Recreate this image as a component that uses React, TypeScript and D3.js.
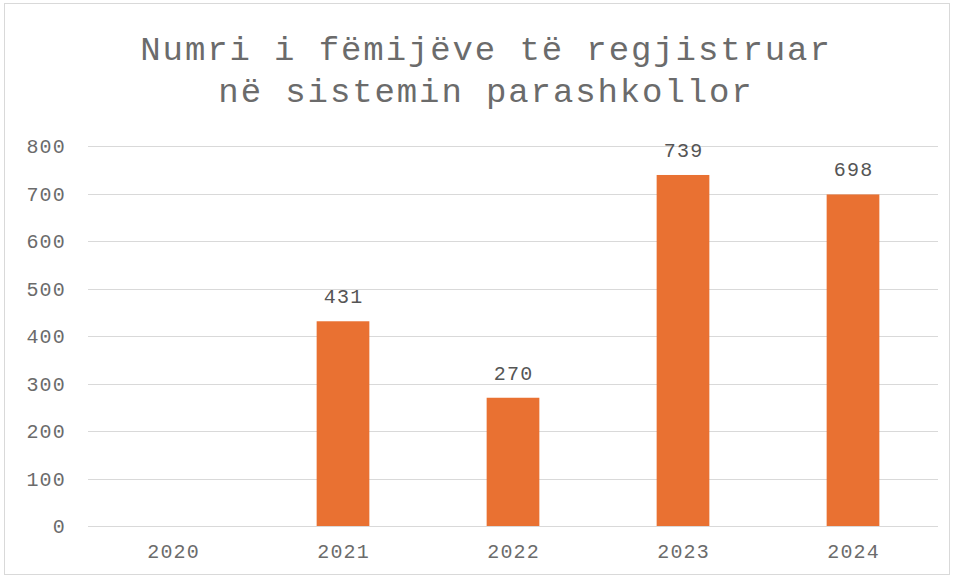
import React, { useEffect, useRef } from 'react';
import * as d3 from 'd3';

const years = ['2020', '2021', '2022', '2023', '2024'];
const children: (number | null)[] = [null, 431, 270, 739, 698];
const yTicks = [0, 100, 200, 300, 400, 500, 600, 700, 800];
const titleLines = ['Numri i fëmijëve të regjistruar', 'në sistemin parashkollor'];

const W = 954;
const H = 577;
const FONT = '"Liberation Mono", "Courier New", monospace';

export default function App() {
  const ref = useRef<SVGSVGElement>(null);

  useEffect(() => {
    document.body.style.margin = '0';
    const svg = d3.select(ref.current);
    svg.selectAll('*').remove();

    const left = 88, right = 938, top = 146, bottom = 526;

    const x = d3.scaleBand().domain(years).range([left, right]).paddingInner(0.69).paddingOuter(0.345);
    const y = d3.scaleLinear().domain([0, 800]).range([bottom, top]);

    svg.append('rect')
      .attr('x', 4.5).attr('y', 3.5)
      .attr('width', W - 9).attr('height', H - 6)
      .attr('fill', '#fff').attr('stroke', '#d9d9d9');

    svg.append('g').selectAll('text')
      .data(titleLines)
      .enter().append('text')
      .attr('x', 486).attr('y', (d, i) => 60 + i * 42)
      .attr('text-anchor', 'middle')
      .attr('font-family', FONT).attr('font-size', 34).attr('letter-spacing', 1.9)
      .attr('fill', '#6b6b6b')
      .text(d => d);

    // gridlines
    svg.append('g').selectAll('line')
      .data(yTicks)
      .enter().append('line')
      .attr('x1', left).attr('x2', right)
      .attr('y1', d => Math.round(y(d)) + 0.5).attr('y2', d => Math.round(y(d)) + 0.5)
      .attr('stroke', '#d9d9d9').attr('stroke-width', 1);

    svg.append('g').selectAll('text')
      .data(yTicks)
      .enter().append('text')
      .attr('x', 66).attr('y', d => y(d) + 7)
      .attr('text-anchor', 'end')
      .attr('font-family', FONT).attr('font-size', 20).attr('letter-spacing', 1.2)
      .attr('fill', '#6b6b6b')
      .text(d => d);

    const data = years.map((yr, i) => ({ yr, v: children[i] }));

    svg.append('g').selectAll('rect')
      .data(data.filter(d => d.v != null))
      .enter().append('rect')
      .attr('x', d => x(d.yr)!)
      .attr('y', d => y(d.v!))
      .attr('width', x.bandwidth())
      .attr('height', d => y(0) - y(d.v!))
      .attr('fill', '#e97132');

    // data labels
    svg.append('g').selectAll('text')
      .data(data.filter(d => d.v != null))
      .enter().append('text')
      .attr('x', d => x(d.yr)! + x.bandwidth() / 2 + 0.6)
      .attr('y', d => y(d.v!) - 18)
      .attr('text-anchor', 'middle')
      .attr('font-family', FONT).attr('font-size', 20).attr('letter-spacing', 1.2)
      .attr('fill', '#555')
      .text(d => d.v!);

    svg.append('g').selectAll('text')
      .data(years)
      .enter().append('text')
      .attr('x', d => x(d)! + x.bandwidth() / 2 + 0.6)
      .attr('y', 558)
      .attr('text-anchor', 'middle')
      .attr('font-family', FONT).attr('font-size', 20).attr('letter-spacing', 1.2)
      .attr('fill', '#6b6b6b')
      .text(d => d);
  }, []);

  return <svg ref={ref} width={W} height={H} style={{ display: 'block' }} />;
}
